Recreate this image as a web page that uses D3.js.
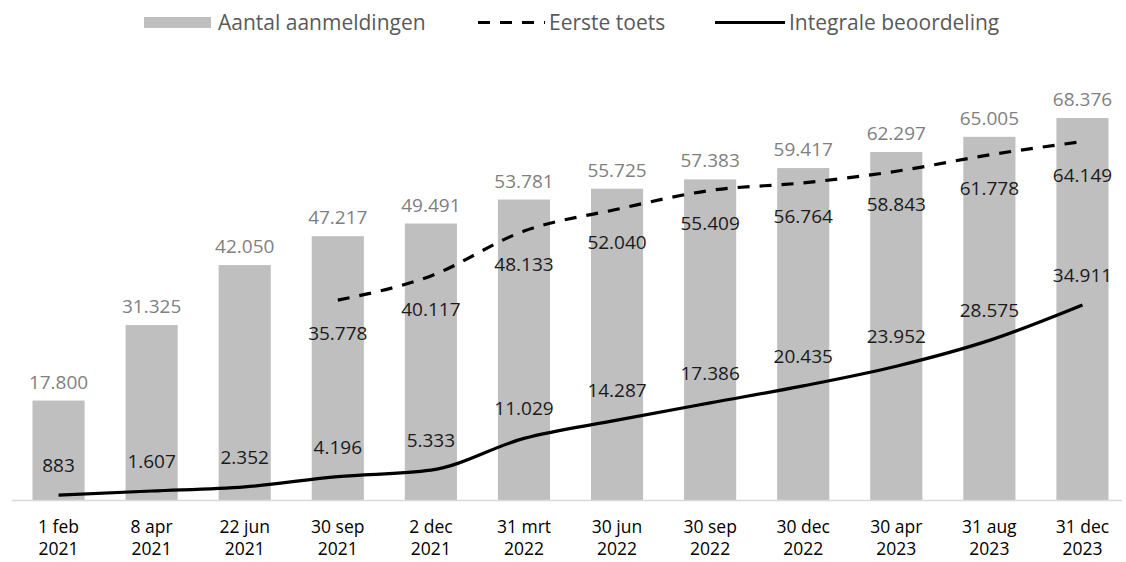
<!DOCTYPE html>
<html><head><meta charset="utf-8">
<script src="https://cdn.jsdelivr.net/npm/d3@7"></script>
<style>body{margin:0;background:#fff}svg{display:block}</style>
</head><body>
<script>
const categories = [["1 feb","2021"],["8 apr","2021"],["22 jun","2021"],["30 sep","2021"],["2 dec","2021"],["31 mrt","2022"],["30 jun","2022"],["30 sep","2022"],["30 dec","2022"],["30 apr","2023"],["31 aug","2023"],["31 dec","2023"]];
const aanmeldingen = [17800,31325,42050,47217,49491,53781,55725,57383,59417,62297,65005,68376];
const eersteToets = [null,null,null,35778,40117,48133,52040,55409,56764,58843,61778,64149];
const integrale = [883,1607,2352,4196,5333,11029,14287,17386,20435,23952,28575,34911];
const seriesNames = ["Aantal aanmeldingen","Eerste toets","Integrale beoordeling"];

const W=1126,H=562;
const font="'Open Sans', 'Noto Sans', sans-serif";
const fmt = v => d3.format(",")(v).replace(/,/g,".");
const svg=d3.select("body").append("svg").attr("width",W).attr("height",H).style("font-family",font);

const x=d3.scaleBand().domain(d3.range(categories.length)).range([12,1129]).paddingInner(0.44).paddingOuter(0.22);
const y=d3.scaleLinear().domain([0,68376]).range([500,118]);

// bars
svg.append("g").selectAll("rect").data(aanmeldingen).join("rect")
  .attr("x",(d,i)=>x(i)).attr("width",x.bandwidth())
  .attr("y",d=>y(d)).attr("height",d=>y(0)-y(d)).attr("fill","#bfbfbf");

// axis line
svg.append("line").attr("x1",12).attr("x2",1122).attr("y1",y(0)+0.5).attr("y2",y(0)+0.5).attr("stroke","#d9d9d9").attr("stroke-width",1.5);

// x axis labels
const xa=svg.append("g");
categories.forEach((c,i)=>{
  const t=xa.append("text").attr("x",x(i)+x.bandwidth()/2).attr("text-anchor","middle").attr("font-size",17.5).attr("fill","#000");
  t.append("tspan").attr("x",x(i)+x.bandwidth()/2).attr("y",533).text(c[0]);
  t.append("tspan").attr("x",x(i)+x.bandwidth()/2).attr("y",555).text(c[1]);
});

const cx=i=>x(i)+x.bandwidth()/2;
const line=d3.line().defined(d=>d!=null).x((d,i)=>cx(i)).y(d=>y(d)).curve(d3.curveMonotoneX);

svg.append("path").attr("d",line(eersteToets)).attr("fill","none").attr("stroke","#000").attr("stroke-width",3.2).attr("stroke-dasharray","12,10");
svg.append("path").attr("d",line(integrale)).attr("fill","none").attr("stroke","#000").attr("stroke-width",3.2);

// labels
svg.append("g").selectAll("text").data(aanmeldingen).join("text")
  .attr("x",(d,i)=>cx(i)).attr("y",d=>y(d)-12).attr("text-anchor","middle").attr("font-size",19).attr("fill","#7f7f7f").text(fmt);
svg.append("g").selectAll("text").data(eersteToets.map((v,i)=>[v,i]).filter(d=>d[0]!=null)).join("text")
  .attr("x",d=>cx(d[1])).attr("y",d=>y(d[0])+40).attr("text-anchor","middle").attr("font-size",19).attr("fill","#1a1a1a").text(d=>fmt(d[0]));
svg.append("g").selectAll("text").data(integrale).join("text")
  .attr("x",(d,i)=>cx(i)).attr("y",d=>y(d)-23).attr("text-anchor","middle").attr("font-size",19).attr("fill","#1a1a1a").text(fmt);

// legend
const lg=svg.append("g").attr("font-size",21).attr("fill","#595959");
lg.append("rect").attr("x",144).attr("y",17).attr("width",67).attr("height",11).attr("fill","#bfbfbf");
lg.append("text").attr("x",218).attr("y",30).text(seriesNames[0]);
lg.append("line").attr("x1",478).attr("x2",545).attr("y1",22.5).attr("y2",22.5).attr("stroke","#000").attr("stroke-width",3.2).attr("stroke-dasharray","12,10");
lg.append("text").attr("x",549).attr("y",30).text(seriesNames[1]);
lg.append("line").attr("x1",715).attr("x2",785).attr("y1",22.5).attr("y2",22.5).attr("stroke","#000").attr("stroke-width",3.2);
lg.append("text").attr("x",789).attr("y",30).text(seriesNames[2]);
</script>
</body></html>
